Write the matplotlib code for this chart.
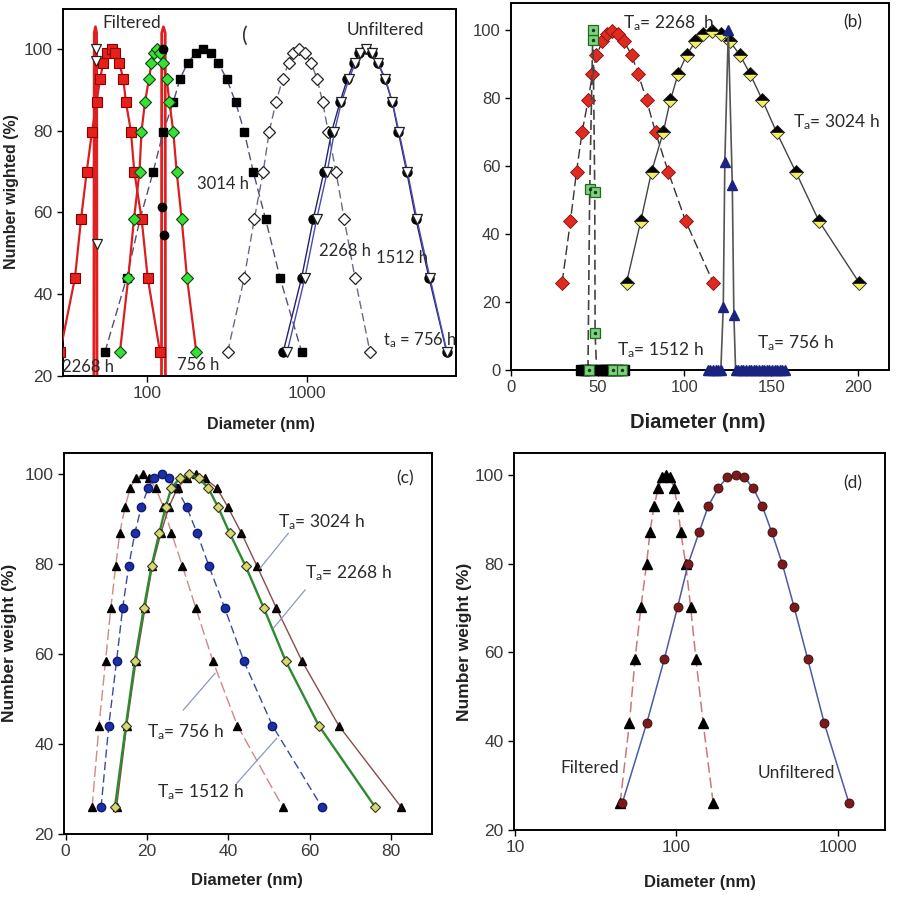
import matplotlib
matplotlib.use('Agg')
import matplotlib.pyplot as plt
from matplotlib.lines import Line2D

plt.rcParams['font.family'] = ['Liberation Sans', 'DejaVu Sans']
plt.rcParams['mathtext.fontset'] = 'custom'
plt.rcParams['mathtext.rm'] = 'Lato'
plt.rcParams['mathtext.it'] = 'Lato:italic'
plt.rcParams['mathtext.bf'] = 'Lato:bold'

# ---------------- data: panel (a) ----------------
lv_a = [25.8, 44.0, 58.3, 70.0, 79.8, 87.0, 92.7, 96.7, 99.0, 100.0,
        99.0, 96.7, 92.7, 87.0, 79.8, 70.0, 58.3, 44.0, 25.8]
a_red_sq_x = [28.4, 35.2, 38.4, 41.7, 45.0, 48.1, 50.5, 53.0, 55.6, 59.8,
              62.7, 66.7, 70.7, 73.5, 79.0, 82.9, 92.2, 100.6, 120.1]
a_green_x = [67.4, 76.0, 82.5, 89.4, 92.0, 96.7, 102.5, 106.3, 110.2, 115.1,
             120.1, 126.0, 132.3, 137.8, 145.6, 152.9, 164.4, 177.5, 203.0]
a_black_sq_x = [54.3, 74.3, 90.0, 109.0, 126.0, 145.6, 160.4, 179.3, 201.2, 224.6,
                250.9, 278.9, 314.8, 358.5, 406.0, 462.0, 553.0, 680.0, 930.0]
a_white_dia_x = [319.5, 406, 469, 534, 582, 642, 707, 771, 824, 895,
                 976, 1064, 1165, 1260, 1366, 1527, 1721, 2009, 2496]
a_circ_x = [713, 930, 1100, 1284, 1435, 1618, 1798, 1980, 2138, 2345,
            2557, 2789, 3099, 3444, 3755, 4241, 4850, 5853, 7556]
a_tri_x = [755, 976, 1155, 1347, 1494, 1653, 1842, 2024, 2175, 2355,
           2568, 2801, 3122, 3454, 3793, 4290, 4920, 5937, 7590]
# narrow filtered distributions (spikes)
a_spike1_x = [46.2, 46.5, 47.3, 48.1, 48.4]
a_spike1_y = [15, 104, 105.5, 104, 15]
a_spike2_x = [122.8, 123.2, 126.3, 129.6, 130.0]
a_spike2_y = [15, 104, 105.5, 104, 15]
a_ftri_x = [47.5, 47.5, 48.1]
a_ftri_y = [100, 97, 52.3]
a_fcirc_x = [125.3, 123.3, 127.6]
a_fcirc_y = [100, 61.3, 54.4]

# ---------------- data: panel (b) ----------------
lv_b = [25.7, 43.8, 58.3, 69.9, 79.4, 87.1, 92.6, 96.6, 98.7, 99.7,
        98.7, 96.6, 92.6, 87.1, 79.4, 69.9, 58.3, 43.8, 25.7]
b_red_x = [29.6, 34.4, 37.9, 41.1, 44.6, 47.1, 49.4, 52.8, 55.5, 58.6,
           61.5, 65.3, 69.6, 73.4, 78.2, 83.4, 90.7, 100.7, 116.6]
b_3024_x = [66.7, 74.9, 81.1, 87.8, 92.0, 96.4, 101.3, 106.4, 110.8, 116.0,
            120.9, 126.2, 132.0, 137.8, 144.9, 153.1, 164.1, 177.5, 200.6]
b_green_x = [44.5, 45.5, 47.2, 47.4, 48.4, 48.6, 49.5]
b_green_y = [0, 53.2, 97, 100, 52.4, 10.8, 0]
b_green_zero_x = [40.5, 42.0, 43.5, 45.1, 46.5, 50.5, 52.0, 53.5, 55.0,
                  56.5, 58.0, 59.0, 60.5, 62.0, 63.8, 65.5]
b_green_zero_show = [45.1, 59.0, 63.8]
b_blue_x = [113.5, 115.0, 116.5, 118.0, 119.5, 121.0, 122.4, 123.3, 125.3,
            127.6, 128.5, 129.5, 131.0, 132.5, 134.0, 135.5, 137.0, 138.5,
            140.0, 141.5, 143.0, 144.5, 146.0, 147.5, 149.0, 150.5, 152.0,
            153.5, 155.0, 156.5, 158.0]
b_blue_y = [0, 0, 0, 0, 0, 0, 18.6, 61.3, 100, 54.4, 16.2, 0, 0, 0, 0, 0,
            0, 0, 0, 0, 0, 0, 0, 0, 0, 0, 0, 0, 0, 0, 0]

# ---------------- data: panel (c) ----------------
lv_c = [25.9, 44.1, 58.4, 70.2, 79.6, 86.9, 92.8, 97.0, 99.1, 100.0,
        99.1, 97.0, 92.8, 86.9, 79.6, 70.2, 58.4, 44.1, 25.9]
c_756_x = [6.5, 8.2, 9.8, 11.1, 12.3, 13.3, 14.6, 15.9, 17.2, 18.9,
           20.4, 22.1, 24.0, 26.0, 28.7, 32.0, 36.2, 42.2, 53.4]
c_1512_x = [8.7, 10.6, 12.5, 14.0, 15.5, 17.0, 18.6, 20.3, 21.7, 23.6,
            25.4, 27.2, 29.7, 32.3, 35.2, 39.1, 43.8, 50.8, 63.0]
c_2268_x = [12.1, 14.8, 17.0, 19.2, 21.1, 23.0, 24.6, 26.0, 28.0, 30.3,
            32.8, 35.0, 37.4, 40.3, 44.2, 48.7, 54.1, 62.2, 76.1]
c_3024_x = [12.5, 15.0, 17.3, 19.5, 21.3, 23.4, 25.4, 27.5, 29.7, 32.0,
            34.2, 37.1, 39.8, 43.2, 47.0, 51.8, 58.1, 67.1, 82.5]

# ---------------- data: panel (d) ----------------
lv_d = [26.0, 44.0, 58.5, 70.3, 80.0, 87.2, 93.0, 97.0, 99.5, 100.0,
        99.5, 97.0, 93.0, 87.2, 80.0, 70.3, 58.5, 44.0, 26.0]
d_filt_x = [44.8, 51.2, 55.5, 60.4, 65.5, 68.7, 72.8, 77.3, 81.8, 86.3,
            91.4, 96.8, 102.0, 106.5, 114.3, 122.7, 132.4, 146.9, 169.4]
d_unf_x = [46.2, 65.5, 84.3, 102, 118.6, 138.9, 157.9, 182, 207, 233,
           263, 300, 341, 390, 454, 537, 653, 828, 1178]

yticks_a = [20, 40, 60, 80, 100]
yticks_b = [0, 20, 40, 60, 80, 100]
xticks_b = [0, 50, 100, 150, 200]
xticks_c = [0, 20, 40, 60, 80]

# ---------------- figure ----------------
W, H = 898, 900
fig = plt.figure(figsize=(W / 100, H / 100), dpi=100)


def box(l, r, t, b):
    return [l / W, 1 - b / H, (r - l) / W, (b - t) / H]


def style(ax, fs=12):
    for s in ax.spines.values():
        s.set_linewidth(1.4)
        s.set_color('black')
    ax.tick_params(direction='out', length=4, width=1, labelsize=fs,
                   labelcolor='#3a3a3a', top=False, right=False)
    ax.tick_params(which='minor', length=0)


ANN = ['Lato', 'DejaVu Sans']


def ftext(x, y, s, ha='left', size=12.5, **kw):
    fig.text(x / W, 1 - y / H, s, ha=ha, va='center', fontsize=size,
             family=ANN, color='#2a2a2a', **kw)


# ----- panel (a) -----
axa = fig.add_axes(box(63, 456, 9.3, 375.5))
axa.set_xscale('log')
axa.set_xlim(29.6, 8650)
axa.set_ylim(20, 109.8)
axa.plot(a_spike1_x, a_spike1_y, color='#e02020', lw=2.0, zorder=2)
axa.plot(a_spike2_x, a_spike2_y, color='#e02020', lw=2.0, zorder=2)
axa.plot(a_black_sq_x, lv_a, ls=(0, (6, 3)), color='#505078', lw=1.0,
         marker='s', ms=6, mfc='black', mec='black', zorder=3)
axa.plot(a_white_dia_x, lv_a, ls=(0, (6, 3)), color='#6a6a8a', lw=1.0,
         marker='D', ms=6, mfc='white', mec='#222222', mew=0.9, zorder=3)
axa.plot(a_red_sq_x, lv_a, color='#d92020', lw=1.6, marker='s', ms=6.5,
         mfc='#e8201c', mec='#8a0000', mew=0.8, zorder=4)
axa.plot(a_green_x, lv_a, color='#d92020', lw=1.6, marker='D', ms=6.5,
         mfc='#36e036', mec='#114411', mew=0.8, zorder=4)
axa.plot(a_circ_x, lv_a, color='#22226a', lw=1.0, marker='o', ms=6.5,
         mfc='black', mec='black', zorder=4)
axa.plot(a_tri_x, lv_a, color='#4a4ab0', lw=1.0, marker='v', ms=7,
         mfc='white', mec='#222222', mew=0.9, zorder=5)
axa.plot(a_ftri_x, a_ftri_y, ls='none', marker='v', ms=7, mfc='white',
         mec='#222222', mew=0.9, zorder=5)
axa.plot(a_fcirc_x, a_fcirc_y, ls='none', marker='o', ms=6, mfc='black',
         mec='black', zorder=5)
axa.set_xticks([100, 1000])
axa.set_xticklabels(['100', '1000'])
axa.xaxis.set_minor_locator(plt.NullLocator())
axa.set_yticks(yticks_a)
style(axa, 12.5)
fig.text(261 / W, 1 - 425 / H, 'Diameter (nm)', ha='center', va='center',
         fontsize=11.5, fontweight='bold', color='#222222')
fig.text(12 / W, 1 - 192 / H, 'Number wighted (%)', ha='center', va='center',
         rotation=90, fontsize=11.5, fontweight='bold', color='#222222')
ftext(132, 23, 'Filtered', ha='center')
ftext(245, 36, '(', ha='center', size=15)
ftext(385, 30, 'Unfiltered', ha='center')
ftext(223, 184, '3014 h', ha='center', size=12)
ftext(345, 251, '2268 h', ha='center', size=12)
ftext(402, 258, '1512 h', ha='center', size=12)
ftext(62, 367, '2268 h', size=12)
ftext(177, 365, '756 h', size=12)
axa.text(383 / W, 1 - 340 / H, r't$_{\mathrm{a}}$ = 756 h', transform=fig.transFigure,
         ha='left', va='center', fontsize=12, family=ANN, color='#2a2a2a',
         clip_on=True)

# ----- panel (b) -----
axb = fig.add_axes(box(510.7, 889.3, 2.7, 370))
axb.set_xlim(0, 218)
axb.set_ylim(0, 108)
axb.plot(b_red_x, lv_b, ls=(0, (7, 3)), color='#333333', lw=1.0, marker='D',
         ms=7.5, mfc='#e02a20', mec='#7a1010', mew=0.6, zorder=3)
axb.plot(b_3024_x, lv_b, color='#444444', lw=1.0, marker='D', ms=7.5,
         fillstyle='top', mfc='black', mfcalt='#f2f060', mec='#222222',
         mew=0.6, zorder=3)
axb.plot(b_green_x, b_green_y, ls=(0, (6, 3)), color='#444444', lw=1.2,
         zorder=3)
axb.plot(b_green_zero_x, [0] * len(b_green_zero_x), ls='-', color='black',
         lw=1.0, marker='s', ms=7, mfc='black', mec='black', clip_on=False,
         zorder=4)
axb.plot(b_green_x[1:-1], b_green_y[1:-1], ls='none', marker='s', ms=6.5,
         mfc='#7fd27f', mec='#1f6a1f', mew=0.9, zorder=5)
axb.plot(b_green_zero_show, [0] * len(b_green_zero_show), ls='none',
         marker='s', ms=6.5, mfc='#7fd27f', mec='#1f6a1f', mew=0.9,
         clip_on=False, zorder=5)
axb.plot(b_green_x[1:-1] + b_green_zero_show,
         b_green_y[1:-1] + [0] * len(b_green_zero_show), ls='none',
         marker='.', ms=3, color='#1a3a1a', clip_on=False, zorder=6)
axb.plot(b_blue_x, b_blue_y, color='#555555', lw=1.2, marker='^', ms=7,
         mfc='#1a2480', mec='#1a2480', clip_on=False, zorder=4)
axb.set_xticks(xticks_b)
axb.set_yticks(yticks_b)
style(axb, 12)
fig.text(698 / W, 1 - 422 / H, 'Diameter (nm)', ha='center', va='center',
         fontsize=14.5, fontweight='bold', color='#222222')
ftext(623, 23, r'T$_{\mathrm{a}}$= 2268  h', size=12.5)
ftext(853, 22, '(b)', ha='center', size=12.5)
ftext(793, 122, r'T$_{\mathrm{a}}$= 3024 h', size=12.5)
ftext(617, 350, r'T$_{\mathrm{a}}$= 1512 h', size=12.5)
ftext(757, 343, r'T$_{\mathrm{a}}$= 756 h', size=12.5)

# ----- panel (c) -----
axc = fig.add_axes(box(64, 432, 452.7, 834))
axc.set_xlim(-0.4, 90)
axc.set_ylim(20, 104.8)
axc.plot(c_756_x, lv_c, ls=(0, (8, 3)), color='#d08888', lw=1.0, marker='^',
         ms=6, mfc='black', mec='black', zorder=3)
axc.plot(c_1512_x, lv_c, ls=(0, (6, 3)), color='#3a4aa0', lw=1.0, marker='o',
         ms=6, mfc='#1c2fa8', mec='#101a70', zorder=3)
axc.plot(c_3024_x, lv_c, color='#8a4a4a', lw=1.0, marker='^', ms=6,
         mfc='#1a0808', mec='black', zorder=3)
axc.plot(c_2268_x, lv_c, color='#2e8a2e', lw=1.7, marker='D', ms=5,
         mfc='#d8d870', mec='#333322', mew=0.8, zorder=4)
axc.set_xticks(xticks_c)
axc.set_yticks(yticks_a)
style(axc, 12.5)
fig.text(247 / W, 1 - 880 / H, 'Diameter (nm)', ha='center', va='center',
         fontsize=12, fontweight='bold', color='#222222')
fig.text(10 / W, 1 - 643 / H, 'Number weight (%)', ha='center', va='center',
         rotation=90, fontsize=12.5, fontweight='bold', color='#222222')
ftext(405, 478, '(c)', ha='center')
ftext(278, 522, r'T$_{\mathrm{a}}$= 3024 h')
ftext(305, 573, r'T$_{\mathrm{a}}$= 2268 h')
ftext(147, 732, r'T$_{\mathrm{a}}$= 756 h')
ftext(157, 792, r'T$_{\mathrm{a}}$= 1512 h')
for (x1, y1, x2, y2) in [(288.3, 533.3, 260, 568.3), (305, 590, 273.3, 628.3),
                         (183.3, 710, 215, 673.3), (236.7, 783.3, 276.7, 738.3)]:
    fig.add_artist(Line2D([x1 / W, x2 / W], [1 - y1 / H, 1 - y2 / H],
                          transform=fig.transFigure, color='#8a9ab8', lw=0.9))

# ----- panel (d) -----
axd = fig.add_axes(box(514, 885, 452.7, 830))
axd.set_xscale('log')
axd.set_xlim(9.86, 1968)
axd.set_ylim(20, 105)
axd.plot(d_filt_x, lv_d, ls=(0, (7, 3)), color='#c87878', lw=1.1, marker='^',
         ms=7, mfc='black', mec='black', zorder=3)
axd.plot(d_unf_x, lv_d, color='#4a5aa8', lw=1.1, marker='o', ms=6.5,
         mfc='#7a1a1a', mec='#3a0a0a', mew=0.6, zorder=3)
axd.set_xticks([10, 100, 1000])
axd.set_xticklabels(['10', '100', '1000'])
axd.xaxis.set_minor_locator(plt.NullLocator())
axd.set_yticks(yticks_a)
style(axd, 12.5)
fig.text(700 / W, 1 - 882 / H, 'Diameter (nm)', ha='center', va='center',
         fontsize=12, fontweight='bold', color='#222222')
fig.text(465 / W, 1 - 642 / H, 'Number weight (%)', ha='center', va='center',
         rotation=90, fontsize=12.5, fontweight='bold', color='#222222')
ftext(853, 483, '(d)', ha='center')
ftext(560, 768, 'Filtered')
ftext(758, 773, 'Unfiltered')

fig.savefig('out.png', dpi=100)
